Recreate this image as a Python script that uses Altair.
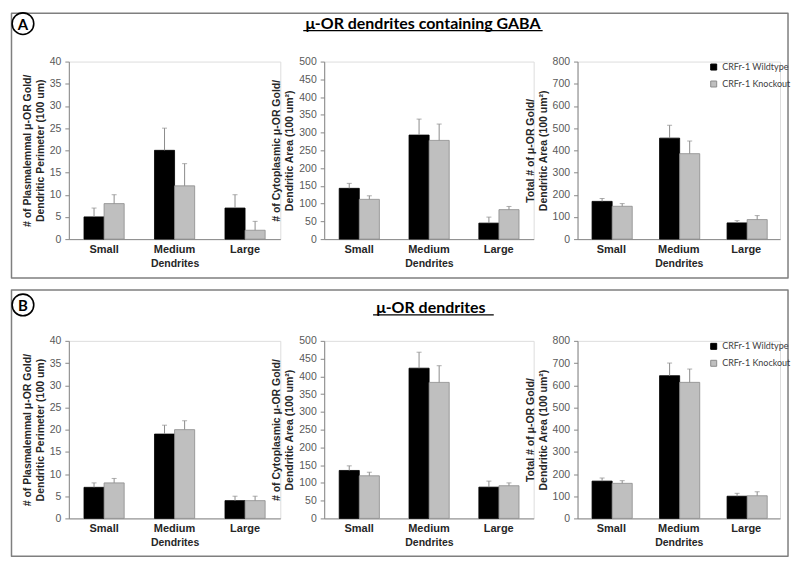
import altair as alt
import pandas as pd

categories = ["Small", "Medium", "Large"]
genotypes = ["CRFr-1 Wildtype", "CRFr-1 Knockout"]

# Panel A: mu-OR dendrites containing GABA
a_plasma_wt = [5, 20, 7]
a_plasma_wt_err = [2, 5, 3]
a_plasma_ko = [8, 12, 2]
a_plasma_ko_err = [2, 5, 2]

a_cyto_wt = [143, 293, 45]
a_cyto_wt_err = [14, 45, 17]
a_cyto_ko = [112, 278, 83]
a_cyto_ko_err = [10, 46, 9]

a_total_wt = [170, 455, 73]
a_total_wt_err = [13, 58, 10]
a_total_ko = [148, 385, 88]
a_total_ko_err = [12, 57, 18]

# Panel B: mu-OR dendrites
b_plasma_wt = [7, 19, 4]
b_plasma_wt_err = [1, 2, 1]
b_plasma_ko = [8, 20, 4]
b_plasma_ko_err = [1, 2, 1]

b_cyto_wt = [135, 423, 88]
b_cyto_wt_err = [13, 45, 17]
b_cyto_ko = [120, 383, 92]
b_cyto_ko_err = [10, 47, 8]

b_total_wt = [168, 643, 100]
b_total_wt_err = [14, 57, 13]
b_total_ko = [158, 613, 102]
b_total_ko_err = [12, 60, 18]

title_plasma = ["# of Plasmalemmal \u03bc-OR Gold/", "Dendritic Perimeter (100 um)"]
title_cyto = ["# of Cytoplasmic \u03bc-OR Gold/", "Dendritic Area (100 um\u00b2)"]
title_total = ["Total # of \u03bc-OR Gold/", "Dendritic Area (100 um\u00b2)"]

FONT = "Lato"
H = 178


def frame(wt, wt_err, ko, ko_err):
    rows = []
    for c, v, e in zip(categories, wt, wt_err):
        rows.append({"size": c, "geno": genotypes[0], "value": v, "top": v + e})
    for c, v, e in zip(categories, ko, ko_err):
        rows.append({"size": c, "geno": genotypes[1], "value": v, "top": v + e})
    return pd.DataFrame(rows)


one = pd.DataFrame({"k": [0]})


def panel(df, ymax, ystep, ytitle, width, legend=False, extras=()):
    x = alt.X("size:N", sort=categories, title="Dendrites",
              scale=alt.Scale(paddingInner=0.43, paddingOuter=0.215),
              axis=alt.Axis(labelAngle=0, ticks=False, labelFontWeight="bold",
                            labelFontSize=11, labelColor="#262626", labelPadding=4,
                            titleFontSize=10.5, titleFontWeight="bold",
                            titleColor="#262626", titlePadding=4))
    xo = alt.XOffset("geno:N", sort=genotypes,
                     scale=alt.Scale(paddingInner=0, paddingOuter=0))
    yaxis = alt.Axis(values=list(range(0, ymax + 1, ystep)), title=ytitle,
                     grid=False, tickSize=4, labelPadding=4, labelFontSize=10.5,
                     labelColor="#595959", titleFontSize=10.5,
                     titleFontWeight="bold", titleColor="#262626",
                     titleLineHeight=13, titlePadding=4)
    yscale = alt.Scale(domain=[0, ymax], nice=False)
    y = alt.Y("value:Q", scale=yscale, axis=yaxis)
    if legend:
        leg = alt.Legend(orient="none", legendX=width - 71, legendY=1, title=None,
                         symbolType="square", symbolSize=36, labelFontSize=9,
                         labelFont=FONT, labelColor="#404040", rowPadding=6,
                         symbolStrokeWidth=1, labelOffset=4, padding=0)
    else:
        leg = None
    color = alt.Color("geno:N", sort=genotypes,
                      scale=alt.Scale(domain=genotypes, range=["#000000", "#bfbfbf"]),
                      legend=leg)
    stroke = alt.Stroke("geno:N", sort=genotypes,
                        scale=alt.Scale(domain=genotypes, range=["#000000", "#8c8c8c"]),
                        legend=leg)
    base = alt.Chart(df)
    bars = base.mark_bar(strokeWidth=0.8).encode(x=x, xOffset=xo, y=y,
                                                  color=color, stroke=stroke)
    err = base.mark_rule(color="#8c8c8c", strokeWidth=1).encode(
        x=x, xOffset=xo, y=y, y2="top:Q")
    cap = base.mark_tick(orient="horizontal", size=5, thickness=1,
                         color="#8c8c8c").encode(
        x=x, xOffset=xo, y=alt.Y("top:Q", scale=yscale, axis=yaxis))
    layers = [bars, err, cap] + list(extras)
    return alt.layer(*layers).properties(width=width, height=H)


def box(y0, y1):
    return alt.Chart(one).mark_rect(fillOpacity=0, stroke="#7f7f7f",
                                    strokeWidth=1.5, strokeJoin="round").encode(
        x=alt.value(-57.5), x2=alt.value(721), y=alt.value(y0), y2=alt.value(y1))


def letter(txt, cx, cy):
    circ = alt.Chart(one).mark_point(shape="circle", size=470, filled=False,
                                     stroke="#000000", strokeWidth=1.6,
                                     opacity=1).encode(
        x=alt.value(cx), y=alt.value(cy))
    t = alt.Chart(one).mark_text(text=txt, font=FONT, fontSize=15,
                                 fontWeight="bold", align="center",
                                 baseline="middle", color="#000000").encode(
        x=alt.value(cx), y=alt.value(cy + 1))
    return [circ, t]


def heading(txt, cx, by, ux0, ux1):
    t = alt.Chart(one).mark_text(text=txt, font=FONT, fontSize=16,
                                 fontWeight="bold", align="center",
                                 baseline="alphabetic", color="#000000").encode(
        x=alt.value(cx), y=alt.value(by))
    u = alt.Chart(one).mark_rule(color="#000000", strokeWidth=1.2).encode(
        x=alt.value(ux0), x2=alt.value(ux1), y=alt.value(by + 2))
    return [t, u]


W1, W2, W3 = 212, 210, 203

panels = [
    panel(frame(a_plasma_wt, a_plasma_wt_err, a_plasma_ko, a_plasma_ko_err),
          40, 5, title_plasma, W1,
          extras=[box(-48.5, 217)] + letter("A", -46, -38)),
    panel(frame(a_cyto_wt, a_cyto_wt_err, a_cyto_ko, a_cyto_ko_err),
          500, 50, title_cyto, W2,
          extras=heading("\u03bc-OR dendrites containing GABA", 99, -33, -21, 219)),
    panel(frame(a_total_wt, a_total_wt_err, a_total_ko, a_total_ko_err),
          800, 100, title_total, W3, legend=True),
    panel(frame(b_plasma_wt, b_plasma_wt_err, b_plasma_ko, b_plasma_ko_err),
          40, 5, title_plasma, W1,
          extras=[box(-51, 216)] + letter("B", -46, -36)),
    panel(frame(b_cyto_wt, b_cyto_wt_err, b_cyto_ko, b_cyto_ko_err),
          500, 50, title_cyto, W2,
          extras=heading("\u03bc-OR dendrites", 107, -28, 49, 170)),
    panel(frame(b_total_wt, b_total_wt_err, b_total_ko, b_total_ko_err),
          800, 100, title_total, W3, legend=True),
]

chart = alt.concat(
    *panels, columns=3, spacing={"row": 102, "column": 44}, bounds="flush"
).resolve_scale(
    color="independent", stroke="independent"
).properties(padding=0).configure_view(stroke=None).configure_axis(
    domainColor="#bfbfbf", tickColor="#bfbfbf", labelFont=FONT, titleFont=FONT
).configure(background="white")

chart.save("out.html", embed_options={"renderer": "svg", "actions": False})
